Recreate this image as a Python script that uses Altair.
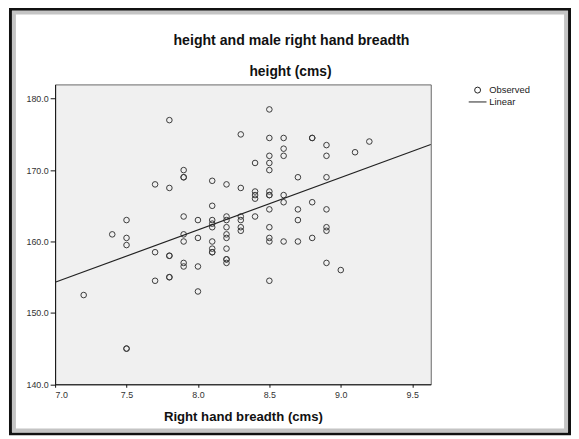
import altair as alt
import pandas as pd

# Right hand breadth (cms) of each observation
breadth = [
    7.2,
    7.4,
    7.5, 7.5, 7.5, 7.5, 7.5,
    7.7, 7.7, 7.7,
    7.8, 7.8, 7.8, 7.8, 7.8, 7.8,
    7.9, 7.9, 7.9, 7.9, 7.9, 7.9, 7.9, 7.9,
    8.0, 8.0, 8.0, 8.0,
    8.1, 8.1, 8.1, 8.1, 8.1, 8.1, 8.1, 8.1, 8.1,
    8.2, 8.2, 8.2, 8.2, 8.2, 8.2, 8.2, 8.2, 8.2, 8.2,
    8.3, 8.3, 8.3, 8.3, 8.3, 8.3,
    8.4, 8.4, 8.4, 8.4, 8.4,
    8.5, 8.5, 8.5, 8.5, 8.5, 8.5, 8.5, 8.5, 8.5, 8.5, 8.5, 8.5, 8.5,
    8.6, 8.6, 8.6, 8.6, 8.6, 8.6,
    8.7, 8.7, 8.7, 8.7,
    8.8, 8.8, 8.8, 8.8,
    8.9, 8.9, 8.9, 8.9, 8.9, 8.9, 8.9,
    9.0,
    9.1,
    9.2,
]

# Height (cms) of each observation
height = [
    152.5,
    161.0,
    163.0, 160.5, 159.5, 145.0, 145.0,
    168.0, 158.5, 154.5,
    177.0, 167.5, 158.0, 158.0, 155.0, 155.0,
    170.0, 169.0, 169.0, 163.5, 161.0, 160.0, 157.0, 156.5,
    163.0, 160.5, 156.5, 153.0,
    168.5, 165.0, 163.0, 162.5, 162.0, 160.0, 159.0, 158.5, 158.5,
    168.0, 163.5, 163.0, 162.0, 161.0, 160.5, 159.0, 157.5, 157.5, 157.0,
    175.0, 167.5, 163.5, 163.0, 162.0, 161.5,
    171.0, 167.0, 166.5, 166.0, 163.5,
    178.5, 174.5, 172.0, 171.0, 170.0, 167.0, 166.5, 166.5, 164.5, 162.0, 160.5, 160.0, 154.5,
    174.5, 173.0, 172.0, 166.5, 165.5, 160.0,
    169.0, 164.5, 163.0, 160.0,
    174.5, 174.5, 165.5, 160.5,
    173.5, 172.0, 169.0, 164.5, 162.0, 161.5, 157.0,
    156.0,
    172.5,
    174.0,
]

series_names = ["Observed", "Linear"]
x_ticks = [7.0, 7.5, 8.0, 8.5, 9.0, 9.5]
y_ticks = [140.0, 150.0, 160.0, 170.0, 180.0]
x_domain = [7.0, 9.63]
y_domain = [140.0, 182.0]
chart_title = "height and male right hand breadth"
chart_subtitle = "height (cms)"

df = pd.DataFrame({"breadth": breadth, "height": height})
df["series"] = "Observed"

FONT = "Liberation Sans"

x_enc = alt.X(
    "breadth:Q",
    scale=alt.Scale(domain=x_domain, nice=False, zero=False),
    axis=alt.Axis(
        values=x_ticks, format=".1f", title="Right hand breadth (cms)",
        grid=False, tickSize=3, labelPadding=3, titlePadding=11,
    ),
)
y_enc = alt.Y(
    "height:Q",
    scale=alt.Scale(domain=y_domain, nice=False, zero=False),
    axis=alt.Axis(
        values=y_ticks, format=".1f", title=None,
        grid=False, tickSize=5, labelPadding=2,
    ),
)

points = alt.Chart(df).mark_point(
    filled=False, color="#3a3a3a", size=32, strokeWidth=1, opacity=1
).encode(
    x=x_enc,
    y=y_enc,
    shape=alt.Shape(
        "series:N",
        scale=alt.Scale(domain=series_names, range=["circle", "M-3,0H3"]),
        legend=alt.Legend(
            title=None, orient="none", legendX=423, legendY=1,
            labelFont=FONT, labelFontSize=9.5, labelColor="#222222",
            symbolSize=36, symbolStrokeColor="#222222",
            symbolFillColor="transparent", symbolStrokeWidth=1,
            labelOffset=7, padding=0, rowPadding=1,
        ),
    ),
)

line = alt.Chart(df).transform_regression(
    "breadth", "height", extent=x_domain
).mark_line(color="#222222", strokeWidth=1.2).encode(
    x="breadth:Q", y="height:Q"
)

one_row = pd.DataFrame({"k": [0]})
frame = alt.Chart(one_row).mark_rect(
    fillOpacity=0, stroke="#111111", strokeWidth=3
).encode(
    x=alt.value(-45.2), x2=alt.value(520.8),
    y=alt.value(-76.2), y2=alt.value(353.8),
)
shadow = alt.Chart(one_row).mark_rect(
    fillOpacity=0, stroke="#c4c4c4", strokeWidth=4
).encode(
    x=alt.value(-41.7), x2=alt.value(517.3),
    y=alt.value(-72.7), y2=alt.value(350.3),
)

title_mark = alt.Chart(one_row).mark_text(
    font=FONT, fontSize=14.3, fontWeight="bold", color="#111111",
    align="center", baseline="alphabetic",
).encode(
    text=alt.value(chart_title), x=alt.value(239.3), y=alt.value(-40),
)
subtitle_mark = alt.Chart(one_row).mark_text(
    font=FONT, fontSize=14, fontWeight="bold", color="#111111",
    align="center", baseline="alphabetic",
).encode(
    text=alt.value(chart_subtitle), x=alt.value(238.3), y=alt.value(-8.7),
)

chart = alt.layer(frame, shadow, title_mark, subtitle_mark, points, line).properties(
    width=380.3,
    height=303.6,
    autosize=alt.AutoSizeParams(type="none"),
    padding={"left": 47.7, "top": 74.7, "right": 142, "bottom": 51.7},
).configure(background="white").configure_view(
    fill="#f0f0f0", stroke="#666666", strokeWidth=1
).configure_axis(
    labelFont=FONT, labelFontSize=9, labelColor="#333333",
    titleFont=FONT, titleFontSize=13.3, titleFontWeight="bold", titleColor="#111111",
    domainColor="#111111", tickColor="#111111", domainWidth=1,
)

chart.save("out.html", embed_options={"renderer": "svg", "actions": False})
